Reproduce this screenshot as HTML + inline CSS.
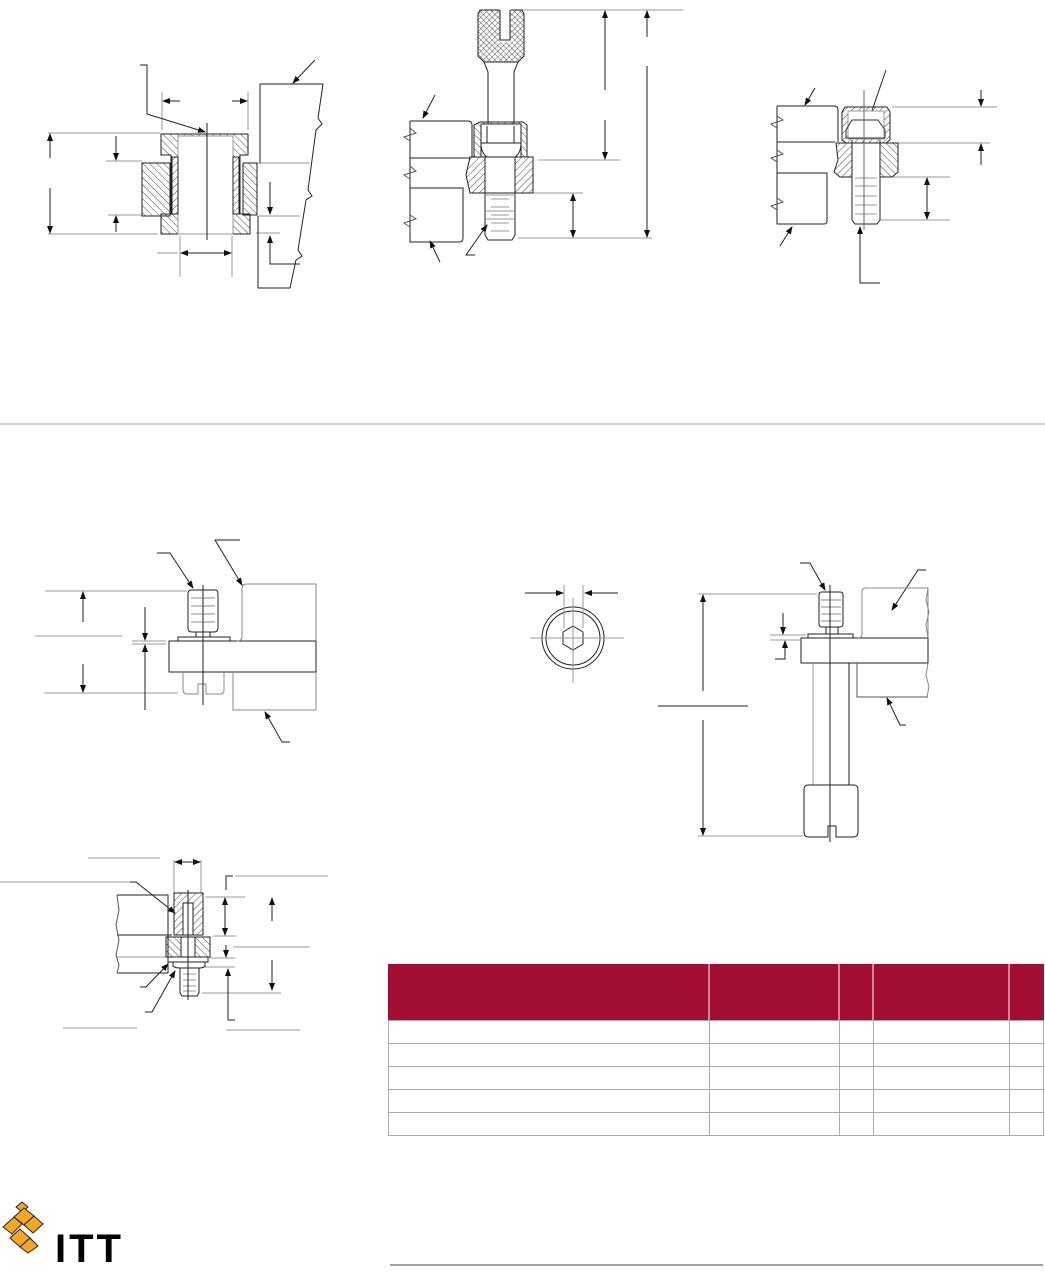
<!DOCTYPE html>
<html><head><meta charset="utf-8"><style>
html,body{margin:0;padding:0;background:#fff;}
svg{display:block;}
</style></head><body>
<svg width="1045" height="1283" viewBox="0 0 1045 1283" xmlns="http://www.w3.org/2000/svg" font-family="Liberation Sans, sans-serif">
<defs>
<pattern id="h" width="5" height="5" patternUnits="userSpaceOnUse" patternTransform="rotate(45)">
<line x1="0" y1="0" x2="0" y2="5" stroke="#333" stroke-width="0.9"/></pattern>
<pattern id="h2" width="5" height="5" patternUnits="userSpaceOnUse" patternTransform="rotate(-45)">
<line x1="0" y1="0" x2="0" y2="5" stroke="#333" stroke-width="0.9"/></pattern>
<pattern id="x" width="4" height="4" patternUnits="userSpaceOnUse" patternTransform="rotate(45)">
<line x1="0" y1="0" x2="0" y2="4" stroke="#333" stroke-width="0.8"/><line x1="0" y1="0" x2="4" y2="0" stroke="#333" stroke-width="0.8"/></pattern>
<marker id="a" markerWidth="8" markerHeight="6" refX="7" refY="3" orient="auto" markerUnits="userSpaceOnUse"><path d="M0,0 L8,3 L0,6z" fill="#111"/></marker>
</defs>
<g fill="none" stroke="#222" stroke-width="1">

<!-- ===== Top-left drawing ===== -->
<g stroke="#999">
<line x1="48" y1="133" x2="160" y2="133"/><line x1="48" y1="234" x2="158" y2="234"/>
<line x1="106" y1="161" x2="142" y2="161"/><line x1="108" y1="215" x2="142" y2="215"/>
<line x1="162" y1="92" x2="162" y2="130"/><line x1="248" y1="92" x2="248" y2="130"/>
<line x1="180" y1="236" x2="180" y2="277"/><line x1="232" y1="236" x2="232" y2="277"/>
<line x1="157" y1="253" x2="178" y2="253"/><line x1="256" y1="233" x2="280" y2="233"/>
<line x1="258" y1="163" x2="310" y2="163"/><line x1="258" y1="216" x2="300" y2="216"/>
</g>
<line x1="50" y1="158" x2="50" y2="134" marker-end="url(#a)"/><line x1="50" y1="188" x2="50" y2="233" marker-end="url(#a)"/>
<line x1="116" y1="136" x2="116" y2="160" marker-end="url(#a)"/><line x1="116" y1="232" x2="116" y2="216" marker-end="url(#a)"/>
<line x1="180" y1="101" x2="163" y2="101" marker-end="url(#a)"/><line x1="232" y1="101" x2="247" y2="101" marker-end="url(#a)"/>
<line x1="206" y1="253" x2="181" y2="253" marker-end="url(#a)"/><line x1="206" y1="253" x2="231" y2="253" marker-end="url(#a)"/>
<line x1="270" y1="182" x2="270" y2="214" marker-end="url(#a)"/><path d="M300,264 H270 V236" marker-end="url(#a)"/>
<path d="M140,65 H147 V114 L205,132" marker-end="url(#a)"/>
<line x1="315" y1="60" x2="293" y2="83" marker-end="url(#a)"/>
<path d="M161,134 H248 V155 H240 V214 H250 V234 H161 V214 H171 V155 H161Z" fill="url(#h2)"/>
<rect x="178" y="136" width="55" height="98" fill="#fff" stroke="#999"/>
<rect x="172" y="157" width="6" height="57" fill="#fff"/><rect x="233" y="157" width="6" height="57" fill="#fff"/>
<rect x="172" y="157" width="6" height="57" fill="url(#h)"/><rect x="233" y="157" width="6" height="57" fill="url(#h)"/>
<rect x="142" y="163" width="28" height="53" fill="url(#h2)"/>
<rect x="243" y="163" width="14" height="52" fill="url(#h2)"/>
<line x1="207" y1="123" x2="207" y2="240"/>
<path d="M260,84 H323 L318,118 L322,124 L316,130 L308,190 L312,196 L306,200 L298,250 L302,256 L296,260 L290,288 H258 V216 M260,163 V84"/>

<!-- ===== Top-middle drawing ===== -->
<g stroke="#999">
<line x1="522" y1="10" x2="683" y2="10"/><line x1="538" y1="160" x2="620" y2="160"/>
<line x1="528" y1="193" x2="583" y2="193"/><line x1="518" y1="238" x2="652" y2="238"/>
</g>
<line x1="605" y1="90" x2="605" y2="11" marker-end="url(#a)"/><line x1="605" y1="120" x2="605" y2="159" marker-end="url(#a)"/>
<line x1="647" y1="37" x2="647" y2="11" marker-end="url(#a)"/><line x1="647" y1="66" x2="647" y2="237" marker-end="url(#a)"/>
<line x1="573" y1="215" x2="573" y2="194" marker-end="url(#a)"/><line x1="573" y1="215" x2="573" y2="237" marker-end="url(#a)"/>
<line x1="435" y1="95" x2="423" y2="118" marker-end="url(#a)"/><line x1="440" y1="262" x2="430" y2="241" marker-end="url(#a)"/>
<path d="M475,255 H466 L487,225" marker-end="url(#a)"/>
<path d="M480,10 H522 L524,14 V56 L518,62 H484 L478,56 V14Z" fill="url(#x)"/>
<rect x="500" y="9" width="10" height="33" fill="#fff" stroke="#fff"/>
<path d="M500,10 V40 H510 V10"/>
<path d="M484,62 L488,72 V140 M518,62 L514,72 V140"/>
<path d="M474,125 L480,122 H523 L527,125 V157 H474Z" fill="url(#h2)"/>
<rect x="481" y="124" width="40" height="33" fill="#fff"/>
<path d="M481,143 Q481,153 487,157 H515 Q521,153 521,143Z"/>
<line x1="487" y1="126" x2="487" y2="143"/><line x1="514" y1="126" x2="514" y2="143"/>
<path d="M470,157 H533 V193 H470 L466,175Z" fill="url(#h)"/>
<rect x="485" y="157" width="30" height="36" fill="#fff"/>
<path d="M485,157 V235 L488,240 H512 L515,235 V157"/>
<g stroke="#999"><line x1="491" y1="199" x2="509" y2="199"/><line x1="491" y1="207" x2="509" y2="207"/><line x1="491" y1="215" x2="509" y2="215"/><line x1="491" y1="223" x2="509" y2="223"/><line x1="491" y1="231" x2="509" y2="231"/><line x1="486" y1="195" x2="514" y2="195"/><line x1="486" y1="211" x2="514" y2="211"/><line x1="486" y1="219" x2="514" y2="219"/></g>
<path d="M410,121 H468 Q472,121 472,125 V157 M410,158 H470 M410,188 H463 V238 Q463,242 459,242 H410 V121"/>
<path d="M410,128 L416,133 L404,137 L410,141 M410,166 L416,171 L404,175 L410,179 M410,215 L416,219 L404,223 L410,227" stroke="#555"/>

<!-- ===== Top-right drawing ===== -->
<g stroke="#999">
<line x1="892" y1="107" x2="997" y2="107"/><line x1="898" y1="143" x2="990" y2="143"/>
<line x1="893" y1="177" x2="950" y2="177"/><line x1="880" y1="220" x2="950" y2="220"/>
</g>
<line x1="981" y1="90" x2="981" y2="106" marker-end="url(#a)"/><line x1="981" y1="165" x2="981" y2="144" marker-end="url(#a)"/>
<line x1="927" y1="198" x2="927" y2="178" marker-end="url(#a)"/><line x1="927" y1="198" x2="927" y2="219" marker-end="url(#a)"/>
<line x1="815" y1="88" x2="805" y2="105" marker-end="url(#a)"/><line x1="780" y1="246" x2="792" y2="227" marker-end="url(#a)"/>
<line x1="886" y1="70" x2="866" y2="128" marker-end="url(#a)"/>
<path d="M880,283 H860 V227" marker-end="url(#a)"/>
<path d="M777,106 H834 Q838,106 838,110 V142 M777,142 H835 M777,173 H827 V221 Q827,224 824,224 H777 V106"/>
<path d="M777,116 L783,120 L771,124 L777,128 M777,150 L783,154 L771,158 L777,162 M777,198 L783,202 L771,206 L777,210" stroke="#555"/>
<path d="M845,107 H887 L890,112 V140 L886,143 H846 L842,140 V112Z" fill="url(#h)"/>
<path d="M848,111 H884 V139 H848Z" fill="#fff" stroke="#999"/>
<path d="M852,120 H878 L885,130 V138 H846 V130Z" stroke="#333"/>
<path d="M836,143 H852 V177 H840 L834,172 L838,160Z" fill="url(#h)"/>
<path d="M880,143 H898 V172 L892,177 H880Z" fill="url(#h2)"/>
<path d="M852,140 V220 L855,224 H877 L880,220 V140"/>
<g stroke="#999"><line x1="855" y1="178" x2="877" y2="178"/><line x1="855" y1="186" x2="877" y2="186"/><line x1="855" y1="196" x2="877" y2="196"/><line x1="855" y1="205" x2="877" y2="205"/><line x1="855" y1="214" x2="877" y2="214"/></g>
<line x1="864" y1="90" x2="864" y2="230" stroke="#666"/>

<line x1="0" y1="424" x2="1045" y2="424" stroke="#aaa"/>

<!-- ===== Bottom-left drawing ===== -->
<g stroke="#999">
<line x1="45" y1="591" x2="187" y2="591"/><line x1="44" y1="693" x2="178" y2="693"/>
<line x1="35" y1="636" x2="122" y2="636"/>
<line x1="132" y1="641" x2="166" y2="641"/><line x1="132" y1="644" x2="166" y2="644"/>
</g>
<line x1="83" y1="622" x2="83" y2="592" marker-end="url(#a)"/><line x1="83" y1="664" x2="83" y2="692" marker-end="url(#a)"/>
<line x1="145" y1="607" x2="145" y2="640" marker-end="url(#a)"/><line x1="145" y1="710" x2="145" y2="645" marker-end="url(#a)"/>
<path d="M157,553 H170 L193,588" marker-end="url(#a)"/>
<path d="M240,540 H215 L242,585" marker-end="url(#a)"/>
<path d="M290,742 H282 L265,712" marker-end="url(#a)"/>
<path d="M191,590 H215 Q218,590 218,594 V628 Q218,632 214,632 H192 Q188,632 188,628 V594 Q188,590 191,590Z"/>
<g stroke="#888"><line x1="191" y1="598" x2="215" y2="598"/><line x1="191" y1="606" x2="215" y2="606"/><line x1="191" y1="614" x2="215" y2="614"/><line x1="191" y1="622" x2="215" y2="622"/></g>
<rect x="196" y="632" width="14" height="5"/>
<rect x="178" y="637" width="52" height="4"/>
<rect x="169" y="641" width="147" height="31"/>
<path d="M237,641 Q242,641 242,636 V589 Q242,584 247,584 H316 V641" stroke="#888"/>
<path d="M233,672 V710 H316 V672" stroke="#888"/>
<path d="M183,672 V690 Q183,694 187,694 H198 V684 H206 V694 H220 Q224,694 224,690 V672" stroke="#888"/>
<line x1="203" y1="585" x2="203" y2="705"/>

<!-- ===== Bottom-middle drawings ===== -->
<circle cx="573" cy="638" r="31"/><circle cx="573" cy="638" r="27"/>
<path d="M573,626 L583,632 V644 L573,650 L563,644 V632Z"/>
<g stroke="#999"><line x1="530" y1="638" x2="624" y2="638"/><line x1="573" y1="598" x2="573" y2="683"/>
<line x1="564" y1="585" x2="564" y2="628"/><line x1="583" y1="585" x2="583" y2="628"/></g>
<line x1="525" y1="593" x2="563" y2="593" marker-end="url(#a)"/><line x1="618" y1="593" x2="585" y2="593" marker-end="url(#a)"/>
<g stroke="#999"><line x1="698" y1="594" x2="817" y2="594"/><line x1="698" y1="836" x2="803" y2="836"/>
<line x1="770" y1="635" x2="806" y2="635"/><line x1="770" y1="640" x2="800" y2="640"/></g>
<line x1="658" y1="706" x2="748" y2="706"/>
<line x1="703" y1="691" x2="703" y2="595" marker-end="url(#a)"/><line x1="703" y1="720" x2="703" y2="835" marker-end="url(#a)"/>
<line x1="783" y1="613" x2="783" y2="634" marker-end="url(#a)"/>
<path d="M775,659 H785 V641" marker-end="url(#a)"/>
<path d="M800,563 H810 L825,590" marker-end="url(#a)"/>
<path d="M926,570 H918 L892,610" marker-end="url(#a)"/>
<path d="M906,725 H900 L887,698" marker-end="url(#a)"/>
<path d="M822,592 H840 Q843,592 843,595 V624 Q843,627 840,627 H822 Q819,627 819,624 V595 Q819,592 822,592Z"/>
<g stroke="#888"><line x1="821" y1="600" x2="841" y2="600"/><line x1="821" y1="607" x2="841" y2="607"/><line x1="821" y1="614" x2="841" y2="614"/><line x1="821" y1="621" x2="841" y2="621"/></g>
<rect x="826" y="627" width="12" height="7"/>
<rect x="808" y="634" width="45" height="4"/>
<rect x="801" y="638" width="127" height="25"/>
<path d="M858,638 Q862,638 862,634 V592 Q862,588 866,588 H928 V638" stroke="#888"/>
<path d="M857,663 V697 H928" stroke="#555"/>
<path d="M928,588 L926,600 L929,612 L926,625 L928,638 M928,663 L926,675 L929,687 L927,697" stroke="#888"/>
<line x1="813" y1="663" x2="813" y2="785" stroke="#999"/><line x1="849" y1="663" x2="849" y2="785"/>
<path d="M808,785 H854 Q858,785 858,790 V832 Q858,837 853,837 H836 V826 H828 V837 H809 Q804,837 804,832 V790 Q804,785 808,785Z"/>
<line x1="830" y1="585" x2="830" y2="842"/>

<!-- ===== Bottom-left lower drawing ===== -->
<g stroke="#999">
<line x1="88" y1="858" x2="160" y2="858"/><line x1="0" y1="882" x2="130" y2="882"/>
<line x1="174" y1="860" x2="174" y2="893"/><line x1="201" y1="860" x2="201" y2="893"/>
<line x1="235" y1="876" x2="328" y2="876"/><line x1="205" y1="897" x2="245" y2="897"/>
<line x1="213" y1="936" x2="236" y2="936"/><line x1="233" y1="947" x2="310" y2="947"/>
<line x1="210" y1="958" x2="235" y2="958"/><line x1="205" y1="967" x2="235" y2="967"/>
<line x1="202" y1="993" x2="281" y2="993"/><line x1="226" y1="1030" x2="300" y2="1030"/>
<line x1="63" y1="1028" x2="137" y2="1028"/>
</g>
<line x1="188" y1="862" x2="175" y2="862" marker-end="url(#a)"/><line x1="188" y1="862" x2="200" y2="862" marker-end="url(#a)"/>
<path d="M226,890 V876 H233"/>
<line x1="225" y1="918" x2="225" y2="898" marker-end="url(#a)"/><line x1="225" y1="918" x2="225" y2="935" marker-end="url(#a)"/>
<line x1="226" y1="945" x2="226" y2="957" marker-end="url(#a)"/>
<path d="M235,1020 H228 V969" marker-end="url(#a)"/>
<line x1="272" y1="921" x2="272" y2="898" marker-end="url(#a)"/><line x1="272" y1="960" x2="272" y2="990" marker-end="url(#a)"/>
<path d="M130,882 H136 L175,913" marker-end="url(#a)"/>
<path d="M140,987 H146 L168,964" marker-end="url(#a)"/>
<path d="M145,1012 H152 L175,971" marker-end="url(#a)"/>
<path d="M117,895 H168 V973 H117" />
<line x1="117" y1="935" x2="172" y2="935"/><line x1="117" y1="957" x2="168" y2="957" stroke="#999"/>
<path d="M117,895 L119,910 L116,925 L119,940 L116,955 L119,965 L117,973" stroke="#555"/>
<rect x="174" y="893" width="29" height="42" fill="url(#h)"/>
<rect x="183" y="903" width="10" height="32" fill="#fff"/>
<path d="M166,937 H210 V957 H166Z" fill="url(#h2)"/>
<rect x="181" y="937" width="14" height="20" fill="#fff"/>
<rect x="168" y="957" width="40" height="5"/>
<path d="M173,962 V966 Q175,968 180,968 H199 Q204,968 205,966 V962"/>
<path d="M180,968 V993 L182,996 H197 L199,993 V968"/>
<g stroke="#999"><line x1="183" y1="974" x2="196" y2="974"/><line x1="183" y1="980" x2="196" y2="980"/><line x1="183" y1="986" x2="196" y2="986"/><line x1="183" y1="991" x2="196" y2="991"/></g>
<line x1="188" y1="890" x2="188" y2="1000"/>
</g>

<!-- ===== Table ===== -->
<rect x="388" y="964" width="656" height="56" fill="#a20f33"/>
<g stroke="#fff" stroke-width="1"><line x1="709" y1="964" x2="709" y2="1020"/><line x1="839" y1="964" x2="839" y2="1020"/><line x1="873" y1="964" x2="873" y2="1020"/><line x1="1009" y1="964" x2="1009" y2="1020"/></g>
<g stroke="#aaa" stroke-width="1" fill="none">
<rect x="388.5" y="1020.5" width="655" height="115"/>
<line x1="388" y1="1043.5" x2="1044" y2="1043.5"/><line x1="388" y1="1066.5" x2="1044" y2="1066.5"/>
<line x1="388" y1="1089.5" x2="1044" y2="1089.5"/><line x1="388" y1="1112.5" x2="1044" y2="1112.5"/>
<line x1="709.5" y1="1020" x2="709.5" y2="1136"/><line x1="839.5" y1="1020" x2="839.5" y2="1136"/>
<line x1="873.5" y1="1020" x2="873.5" y2="1136"/><line x1="1009.5" y1="1020" x2="1009.5" y2="1136"/>
</g>
<line x1="390" y1="1265" x2="1043" y2="1265" stroke="#444" stroke-width="1"/>

<!-- ===== Logo ===== -->
<g fill="#f5a623" stroke="#222" stroke-width="1">
<path d="M16,1207 L22,1202 L28,1207 L22,1212Z"/>
<path d="M3,1227 L14,1217 L22,1224 L12,1234Z"/>
<path d="M14,1217 L24,1208 L34,1216 L24,1225Z"/>
<path d="M24,1225 L34,1216 L43,1224 L33,1233Z"/>
<path d="M10,1238 L20,1229 L30,1238 L20,1247Z"/>
<path d="M20,1247 L30,1238 L38,1246 L28,1253Z"/>
</g>
<text x="55" y="1262" font-size="40" font-weight="bold" fill="#000" letter-spacing="3">ITT</text>
</svg>
</body></html>
